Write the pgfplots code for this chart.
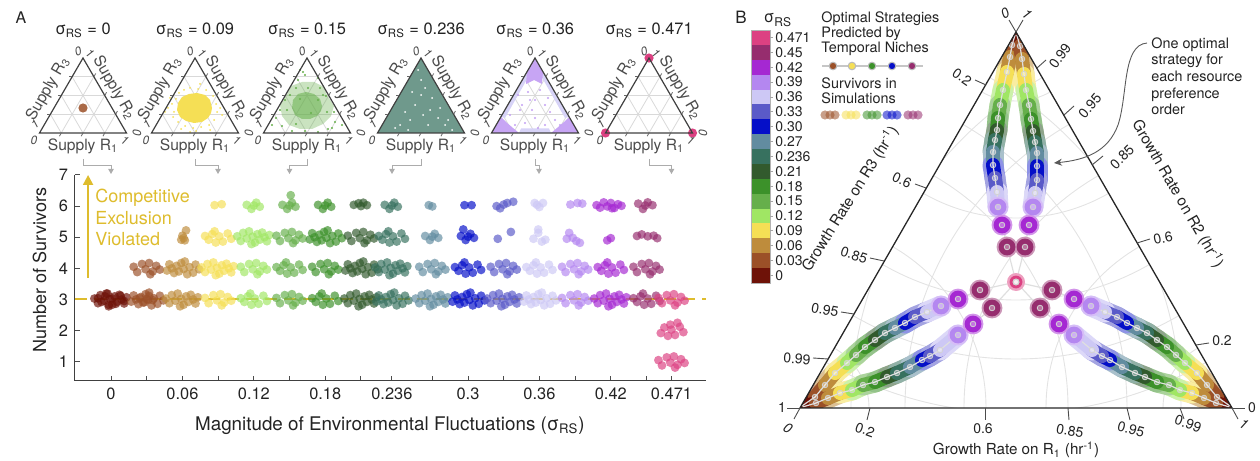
\documentclass[border=0pt]{standalone}
\usepackage{pgfplots}
\pgfplotsset{compat=1.18}
\usepackage{pgfplotstable}
\usetikzlibrary{arrows.meta}
\usepackage{fontspec}
\setmainfont{TeX Gyre Heros}

\newcommand\fs[2]{\fontsize{#1}{#2}\selectfont}

% one colour per fluctuation magnitude (0, 0.03, ..., 0.471)
\definecolor{c0}{RGB}{110,18,8}
\definecolor{c1}{RGB}{155,80,40}
\definecolor{c2}{RGB}{190,140,60}
\definecolor{c3}{RGB}{245,223,85}
\definecolor{c4}{RGB}{160,230,100}
\definecolor{c5}{RGB}{102,175,75}
\definecolor{c6}{RGB}{60,145,42}
\definecolor{c7}{RGB}{50,90,45}
\definecolor{c8}{RGB}{55,113,95}
\definecolor{c9}{RGB}{98,140,160}
\definecolor{c10}{RGB}{5,15,200}
\definecolor{c11}{RGB}{90,90,200}
\definecolor{c12}{RGB}{205,200,245}
\definecolor{c13}{RGB}{180,135,240}
\definecolor{c14}{RGB}{165,40,210}
\definecolor{c15}{RGB}{150,45,110}
\definecolor{c16}{RGB}{220,65,130}
\definecolor{gold}{RGB}{222,188,45}
\definecolor{txt}{RGB}{35,35,35}
\definecolor{tgray}{RGB}{75,75,75}

\tikzset{nostroke/.style={draw opacity=0, line width=0pt}}
\pgfplotsset{
  colormap={sig}{color=(c0) color=(c1) color=(c2) color=(c3) color=(c4) color=(c5)
    color=(c6) color=(c7) color=(c8) color=(c9) color=(c10) color=(c11) color=(c12)
    color=(c13) color=(c14) color=(c15) color=(c16) color=(c16)},
  colormap={siglight}{color=(c0!55!white) color=(c1!55!white) color=(c2!55!white)
    color=(c3!55!white) color=(c4!55!white) color=(c5!55!white) color=(c6!55!white)
    color=(c7!55!white) color=(c8!55!white) color=(c9!55!white) color=(c10!45!white)
    color=(c11!55!white) color=(c12!70!white) color=(c13!55!white) color=(c14!50!white)
    color=(c15!50!white) color=(c16!50!white) color=(c16!50!white)},
  canvas/.style={at={(0pt,0pt)}, anchor=south west, scale only axis,
    width=630pt, height=230.5pt, xmin=0, xmax=1260, ymin=0, ymax=461,
    y dir=reverse, hide axis, clip=false,
    colormap name=sig, point meta min=0, point meta max=17},
}

% ---------- survivors per run (x = sigma_RS with jitter, y = count with jitter, i = sigma index)
\pgfplotstableread{
x y i
-0.014 3.03 0
-0.011 2.88 0
-0.009 3.14 0
-0.006 2.96 0
-0.004 3.19 0
-0.001 3.02 0
0.001 2.83 0
0.003 3.10 0
0.005 2.92 0
0.007 3.15 0
0.009 3.00 0
0.011 2.87 0
0.013 3.07 0
-0.002 2.78 0
0.011 2.95 0
0.008 3.12 0
0.004 2.86 0
0.001 3.03 0
-0.002 2.83 0
-0.005 3.10 0
-0.008 2.92 0
-0.011 3.04 0
-0.003 3.19 0
0.044 2.97 1
0.041 3.12 1
0.039 2.86 1
0.036 3.04 1
0.034 2.81 1
0.031 2.98 1
0.029 3.17 1
0.027 2.90 1
0.025 3.08 1
0.023 2.85 1
0.021 3.00 1
0.019 3.13 1
0.017 2.93 1
0.032 3.22 1
0.024 3.04 1
0.028 2.91 1
0.032 3.11 1
0.035 2.98 1
0.030 3.02 1
0.019 4.05 1
0.022 3.88 1
0.026 4.14 1
0.029 3.97 1
0.032 4.17 1
0.035 3.90 1
0.038 4.08 1
0.041 3.96 1
0.033 3.81 1
0.046 3.03 2
0.049 2.88 2
0.051 3.14 2
0.054 2.96 2
0.056 3.19 2
0.059 3.02 2
0.061 2.83 2
0.063 3.10 2
0.065 2.92 2
0.067 3.15 2
0.069 3.00 2
0.071 2.87 2
0.073 3.07 2
0.058 2.78 2
0.074 3.97 2
0.071 4.12 2
0.069 3.86 2
0.066 4.04 2
0.064 3.81 2
0.061 3.98 2
0.059 4.17 2
0.057 3.90 2
0.055 4.08 2
0.053 3.85 2
0.051 4.00 2
0.049 4.13 2
0.047 3.93 2
0.062 4.22 2
0.059 4.92 2
0.061 4.97 2
0.063 5.22 2
0.060 5.05 2
0.062 4.90 2
0.079 3.05 3
0.082 2.88 3
0.086 3.14 3
0.089 2.97 3
0.092 3.17 3
0.095 2.90 3
0.098 3.08 3
0.101 2.96 3
0.093 2.81 3
0.076 4.03 3
0.079 3.88 3
0.081 4.14 3
0.084 3.96 3
0.086 4.19 3
0.089 4.02 3
0.091 3.83 3
0.093 4.10 3
0.095 3.92 3
0.097 4.15 3
0.099 4.00 3
0.101 3.87 3
0.103 4.07 3
0.088 3.78 3
0.101 4.95 3
0.098 5.12 3
0.094 4.86 3
0.091 5.03 3
0.088 4.83 3
0.085 5.10 3
0.082 4.92 3
0.079 5.04 3
0.087 5.19 3
0.087 6.03 3
0.093 6.06 3
0.131 2.95 4
0.128 3.12 4
0.124 2.86 4
0.121 3.03 4
0.118 2.83 4
0.115 3.10 4
0.112 2.92 4
0.109 3.04 4
0.117 3.19 4
0.109 4.05 4
0.112 3.88 4
0.116 4.14 4
0.119 3.97 4
0.122 4.17 4
0.125 3.90 4
0.128 4.08 4
0.131 3.96 4
0.123 3.81 4
0.106 5.03 4
0.109 4.88 4
0.111 5.14 4
0.114 4.96 4
0.116 5.19 4
0.119 5.02 4
0.121 4.83 4
0.123 5.10 4
0.125 4.92 4
0.127 5.15 4
0.129 5.00 4
0.131 4.87 4
0.133 5.07 4
0.118 4.78 4
0.114 6.04 4
0.118 5.91 4
0.122 6.11 4
0.125 5.98 4
0.120 6.02 4
0.139 3.05 5
0.142 2.88 5
0.146 3.14 5
0.149 2.97 5
0.152 3.17 5
0.155 2.90 5
0.158 3.08 5
0.161 2.96 5
0.153 2.81 5
0.161 3.95 5
0.158 4.12 5
0.154 3.86 5
0.151 4.03 5
0.148 3.83 5
0.145 4.10 5
0.142 3.92 5
0.139 4.04 5
0.147 4.19 5
0.139 5.05 5
0.142 4.88 5
0.146 5.14 5
0.149 4.97 5
0.152 5.17 5
0.155 4.90 5
0.158 5.08 5
0.161 4.96 5
0.153 4.81 5
0.144 6.04 5
0.148 5.91 5
0.152 6.11 5
0.155 5.98 5
0.150 6.02 5
0.151 6.35 5
0.191 2.95 6
0.188 3.12 6
0.184 2.86 6
0.181 3.03 6
0.178 2.83 6
0.175 3.10 6
0.172 2.92 6
0.169 3.04 6
0.177 3.19 6
0.169 4.05 6
0.172 3.88 6
0.176 4.14 6
0.179 3.97 6
0.182 4.17 6
0.185 3.90 6
0.188 4.08 6
0.191 3.96 6
0.183 3.81 6
0.194 4.97 6
0.191 5.12 6
0.189 4.86 6
0.186 5.04 6
0.184 4.81 6
0.181 4.98 6
0.179 5.17 6
0.177 4.90 6
0.175 5.08 6
0.173 4.85 6
0.171 5.00 6
0.169 5.13 6
0.167 4.93 6
0.182 5.22 6
0.174 6.04 6
0.178 5.91 6
0.182 6.11 6
0.185 5.98 6
0.180 6.02 6
0.196 3.03 7
0.199 2.88 7
0.201 3.14 7
0.204 2.96 7
0.206 3.19 7
0.209 3.02 7
0.211 2.83 7
0.213 3.10 7
0.215 2.92 7
0.217 3.15 7
0.219 3.00 7
0.221 2.87 7
0.223 3.07 7
0.208 2.78 7
0.224 3.97 7
0.221 4.12 7
0.219 3.86 7
0.216 4.04 7
0.214 3.81 7
0.211 3.98 7
0.209 4.17 7
0.207 3.90 7
0.205 4.08 7
0.203 3.85 7
0.201 4.00 7
0.199 4.13 7
0.197 3.93 7
0.212 4.22 7
0.199 5.05 7
0.202 4.88 7
0.206 5.14 7
0.209 4.97 7
0.212 5.17 7
0.215 4.90 7
0.218 5.08 7
0.221 4.96 7
0.213 4.81 7
0.204 6.04 7
0.208 6.09 7
0.212 6.11 7
0.215 6.03 7
0.210 6.00 7
0.250 2.97 8
0.247 3.12 8
0.245 2.86 8
0.242 3.04 8
0.240 2.81 8
0.237 2.98 8
0.235 3.17 8
0.233 2.90 8
0.231 3.08 8
0.229 2.85 8
0.227 3.00 8
0.225 3.13 8
0.223 2.93 8
0.238 3.22 8
0.222 4.03 8
0.225 3.88 8
0.227 4.14 8
0.230 3.96 8
0.232 4.19 8
0.235 4.02 8
0.237 3.83 8
0.239 4.10 8
0.241 3.92 8
0.243 4.15 8
0.245 4.00 8
0.247 3.87 8
0.249 4.07 8
0.234 3.78 8
0.247 4.95 8
0.244 5.12 8
0.240 4.86 8
0.237 5.03 8
0.234 4.83 8
0.231 5.10 8
0.228 4.92 8
0.225 5.04 8
0.233 5.19 8
0.230 6.04 8
0.234 5.91 8
0.238 6.11 8
0.241 5.98 8
0.236 6.02 8
0.256 3.03 9
0.259 2.88 9
0.261 3.14 9
0.264 2.96 9
0.266 3.19 9
0.269 3.02 9
0.271 2.83 9
0.273 3.10 9
0.275 2.92 9
0.277 3.15 9
0.279 3.00 9
0.281 2.87 9
0.283 3.07 9
0.268 2.78 9
0.259 4.05 9
0.262 3.88 9
0.266 4.14 9
0.269 3.97 9
0.272 4.17 9
0.275 3.90 9
0.278 4.08 9
0.281 3.96 9
0.273 3.81 9
0.264 5.04 9
0.268 4.91 9
0.272 5.11 9
0.275 4.98 9
0.270 5.02 9
0.267 6.03 9
0.270 5.99 9
0.314 2.97 10
0.311 3.12 10
0.309 2.86 10
0.306 3.04 10
0.304 2.81 10
0.301 2.98 10
0.299 3.17 10
0.297 2.90 10
0.295 3.08 10
0.293 2.85 10
0.291 3.00 10
0.289 3.13 10
0.287 2.93 10
0.302 3.22 10
0.311 3.95 10
0.308 4.12 10
0.304 3.86 10
0.301 4.03 10
0.298 3.83 10
0.295 4.10 10
0.292 3.92 10
0.289 4.04 10
0.297 4.19 10
0.294 5.04 10
0.298 4.91 10
0.302 5.11 10
0.305 4.98 10
0.300 5.02 10
0.296 5.25 10
0.297 6.03 10
0.303 6.03 10
0.316 3.03 11
0.319 2.88 11
0.321 3.14 11
0.324 2.96 11
0.326 3.19 11
0.329 3.02 11
0.331 2.83 11
0.333 3.10 11
0.335 2.92 11
0.337 3.15 11
0.339 3.00 11
0.341 2.87 11
0.343 3.07 11
0.328 2.78 11
0.319 4.05 11
0.322 3.88 11
0.326 4.14 11
0.329 3.97 11
0.332 4.17 11
0.335 3.90 11
0.338 4.08 11
0.341 3.96 11
0.333 3.81 11
0.325 4.95 11
0.336 5.17 11
0.324 6.00 11
0.327 5.93 11
0.333 6.10 11
0.338 6.14 11
0.330 6.05 11
0.374 2.97 12
0.371 3.12 12
0.369 2.86 12
0.366 3.04 12
0.364 2.81 12
0.361 2.98 12
0.359 3.17 12
0.357 2.90 12
0.355 3.08 12
0.353 2.85 12
0.351 3.00 12
0.349 3.13 12
0.347 2.93 12
0.362 3.22 12
0.371 3.95 12
0.368 4.12 12
0.364 3.86 12
0.361 4.03 12
0.358 3.83 12
0.355 4.10 12
0.352 3.92 12
0.349 4.04 12
0.357 4.19 12
0.355 4.95 12
0.359 5.14 12
0.362 4.86 12
0.365 4.92 12
0.359 5.25 12
0.356 6.10 12
0.360 5.97 12
0.363 6.10 12
0.358 6.04 12
0.379 3.05 13
0.382 2.88 13
0.386 3.14 13
0.389 2.97 13
0.392 3.17 13
0.395 2.90 13
0.398 3.08 13
0.401 2.96 13
0.393 2.81 13
0.379 4.05 13
0.382 3.88 13
0.386 4.14 13
0.389 3.97 13
0.392 4.17 13
0.395 3.90 13
0.398 4.08 13
0.401 3.96 13
0.393 3.81 13
0.385 5.14 13
0.388 4.98 13
0.391 4.88 13
0.394 4.82 13
0.383 4.95 13
0.386 6.05 13
0.392 6.10 13
0.396 6.08 13
0.406 3.03 14
0.409 2.88 14
0.411 3.14 14
0.414 2.96 14
0.416 3.19 14
0.419 3.02 14
0.421 2.83 14
0.423 3.10 14
0.425 2.92 14
0.427 3.15 14
0.429 3.00 14
0.431 2.87 14
0.433 3.07 14
0.418 2.78 14
0.431 3.95 14
0.428 4.12 14
0.424 3.86 14
0.421 4.03 14
0.418 3.83 14
0.415 4.10 14
0.412 3.92 14
0.409 4.04 14
0.417 4.19 14
0.417 4.90 14
0.420 4.97 14
0.408 6.03 14
0.411 5.95 14
0.414 6.12 14
0.417 5.99 14
0.420 6.10 14
0.423 5.94 14
0.426 6.06 14
0.429 6.01 14
0.421 5.93 14
0.461 2.95 15
0.458 3.12 15
0.454 2.86 15
0.451 3.03 15
0.448 2.83 15
0.445 3.10 15
0.442 2.92 15
0.439 3.04 15
0.447 3.19 15
0.439 4.05 15
0.442 3.88 15
0.446 4.14 15
0.449 3.97 15
0.452 4.17 15
0.455 3.90 15
0.458 4.08 15
0.461 3.96 15
0.453 3.81 15
0.442 5.04 15
0.446 5.09 15
0.451 5.03 15
0.456 5.05 15
0.459 4.97 15
0.443 6.08 15
0.447 5.91 15
0.451 6.12 15
0.455 6.03 15
0.449 6.02 15
0.460 3.05 16
0.463 2.88 16
0.467 3.14 16
0.470 2.97 16
0.473 3.17 16
0.476 2.90 16
0.479 3.08 16
0.482 2.96 16
0.474 2.81 16
0.481 1.95 16
0.478 2.12 16
0.474 1.86 16
0.471 2.03 16
0.468 1.83 16
0.465 2.10 16
0.462 1.92 16
0.470 2.19 16
0.476 2.25 16
0.460 1.05 16
0.463 0.88 16
0.467 1.14 16
0.470 0.97 16
0.473 1.17 16
0.476 0.90 16
0.479 1.08 16
0.482 0.96 16
0.474 0.81 16
}\survivors

% ---------- optimal strategy paths in the growth-rate triangle (drawing units, i = sigma index)
\pgfplotstableread{
x y i
1016 32 0
1012 45 1
1010 57 2
1007 72 3
1003 90 4
1000 105 5
998 118 6
997 130 7
995 140 8
993 152 9
993 165 10
995 178 11
997 192 12
998 207 13
1002 225 14
1007 247 15
1016 282 16
}\stTL
\pgfplotstableread{
x y i
1016 32 0
1020 46 1
1022 59 2
1024 74 3
1026 90 4
1029 105 5
1031 119 6
1033 131 7
1035 142 8
1037 153 9
1037 166 10
1037 180 11
1035 193 12
1033 207 13
1029 225 14
1025 247 15
1016 282 16
}\stTR
\pgfplotstableread{
x y i
799 408 0
815 397 1
825 385 2
835 373 3
847 363 4
856 355 5
865 347 6
875 340 7
885 333 8
895 328 9
905 323 10
915 317 11
927 312 12
941 306 13
958 299 14
980 290 15
1016 282 16
}\stBLu
\pgfplotstableread{
x y i
799 408 0
816 403 1
828 398 2
840 393 3
852 390 4
863 385 5
875 382 6
887 377 7
897 373 8
910 367 9
922 360 10
930 356 11
940 350 12
958 335 13
973 324 14
992 308 15
1016 282 16
}\stBLl
\pgfplotstableread{
x y i
1233 408 0
1217 397 1
1207 385 2
1197 373 3
1185 363 4
1176 355 5
1167 347 6
1157 340 7
1147 333 8
1137 328 9
1127 323 10
1117 317 11
1105 312 12
1091 306 13
1074 299 14
1052 290 15
1016 282 16
}\stBRu
\pgfplotstableread{
x y i
1233 408 0
1216 403 1
1204 398 2
1192 393 3
1180 390 4
1169 385 5
1157 382 6
1145 377 7
1135 373 8
1122 367 9
1110 360 10
1102 356 11
1092 350 12
1074 335 13
1059 324 14
1040 308 15
1016 282 16
}\stBRl

% layers of one strategy path (argument: path table)
\newcommand\pathhalo[1]{%
  \addplot[mesh, point meta=explicit, shader=flat corner, colormap name=siglight, line width=10.5pt, line cap=round,
    skip coords between index={14}{17}] table[x=x, y=y, meta=i] {#1};
  \addplot[scatter, only marks, mark=*, mark size=5.2pt, point meta=explicit, colormap name=siglight,
    scatter/use mapped color={nostroke, fill=mapped color},
    skip coords between index={0}{13}, skip coords between index={16}{17}] table[x=x, y=y, meta=i] {#1};
}
\newcommand\pathcore[1]{%
  \addplot[mesh, point meta=explicit, shader=flat corner, line width=7pt, line cap=round,
    skip coords between index={14}{17}] table[x=x, y=y, meta=i] {#1};
  \addplot[scatter, only marks, mark=*, mark size=4.2pt, point meta=explicit,
    scatter/use mapped color={nostroke, fill=mapped color},
    skip coords between index={0}{13}, skip coords between index={16}{17}] table[x=x, y=y, meta=i] {#1};
}
\newcommand\pathline[1]{%
  \addplot[white!75!gray, line width=0.6pt] table[x=x, y=y] {#1};
  \addplot[only marks, mark=*, mark size=1.4pt,
    mark options={fill=white, fill opacity=0.35, draw=white!65!gray, line width=0.4pt},
    skip coords between index={0}{1}] table[x=x, y=y] {#1};
}

% small supply triangle grid, centre x = #1
\newcommand\smallgrid[1]{%
  \foreach \k in {1,2,3}{%
    \pgfmathsetmacro\yy{58+18.75*\k}%
    \pgfmathsetmacro\xa{#1-10.875*\k}%
    \pgfmathsetmacro\xb{#1+10.875*\k}%
    \pgfmathsetmacro\px{#1-43.5+21.75*\k}%
    \pgfmathsetmacro\rx{#1-43.5+10.875*\k}%
    \pgfmathsetmacro\ry{133-18.75*\k}%
    \draw[gray!30, line width=0.4pt] (\xa,\yy)--(\xb,\yy);
    \draw[gray!30, line width=0.4pt] (\px,133)--(\xb,\yy);
    \draw[gray!30, line width=0.4pt] (\px,133)--(\rx,\ry);
  }%
}
\newcommand\smallframe[2]{% #1 centre x, #2 title value
  \draw[black!75, line width=0.6pt] (#1,58)--(#1-43.5,133)--(#1+43.5,133)--cycle;
  \foreach \k in {1,2,3}{%
    \pgfmathsetmacro\px{#1-43.5+21.75*\k}%
    \pgfmathsetmacro\ly{58+18.75*\k}%
    \pgfmathsetmacro\lx{#1-10.875*\k}%
    \pgfmathsetmacro\rxx{#1+10.875*\k}%
    \draw[black!60, line width=0.4pt] (\px,133)--++(-1.8,3.2);
    \draw[black!60, line width=0.4pt] (\lx,\ly)--++(-3.6,0);
    \draw[black!60, line width=0.4pt] (\rxx,\ly)--++(1.8,-3.2);
  }
  \node[font=\fs{8.2}{9}, text=txt] at (#1,30) {σ\textsubscript{RS} = #2};
  \node[font=\fs{7.8}{9}, text=tgray, inner sep=1pt] at (#1,146) {Supply R\textsubscript{1}};
  \node[font=\fs{7.8}{9}, text=tgray, inner sep=1pt, rotate=60] at (#1-35,89) {Supply R\textsubscript{3}};
  \node[font=\fs{7.8}{9}, text=tgray, inner sep=1pt, rotate=-60] at (#1+31,88) {Supply R\textsubscript{2}};
  \node[font=\fs{6}{7}\itshape, text=tgray, inner sep=0.5pt, rotate=20] at (#1-5,51) {0};
  \node[font=\fs{6}{7}\itshape, text=tgray, inner sep=0.5pt, rotate=-40] at (#1+7,53) {1};
  \node[font=\fs{6}{7}\itshape, text=tgray, inner sep=0.5pt, rotate=40] at (#1-48,124) {1};
  \node[font=\fs{6}{7}\itshape, text=tgray, inner sep=0.5pt] at (#1-49,140) {0};
  \node[font=\fs{6}{7}\itshape, text=tgray, inner sep=0.5pt, rotate=-30] at (#1+42,140) {1};
  \node[font=\fs{6}{7}\itshape, text=tgray, inner sep=0.5pt, rotate=90] at (#1+54,133) {0};
}

\begin{document}
\begin{tikzpicture}
\path[use as bounding box] (0,0) rectangle (630pt,230.5pt);

% ---------------- background layer: grids and colour bar
\begin{scope}[shift={(0pt,230.5pt)}, x=0.5pt, y=-0.5pt]
  \smallgrid{83}\smallgrid{195}\smallgrid{307}\smallgrid{421}\smallgrid{535}\smallgrid{649}
  \begin{scope}
    \clip (1016,32)--(800,408)--(1232,408)--cycle;
    \foreach \r in {69,186,268,327,381}{
      \draw[gray!22, line width=0.45pt] (800,408) circle[radius=\r];
      \draw[gray!22, line width=0.45pt] (1232,408) circle[radius=\r];
      \draw[gray!22, line width=0.45pt] (1016,32) circle[radius=\r];
    }
  \end{scope}
  \foreach \i in {0,...,16}{
    \fill[c\i] (751,{30+(16-\i)*14.88}) rectangle (770,{30+(17-\i)*14.88});
  }
  \draw[gray!60, line width=0.4pt] (751,30) rectangle (770,283);
  \foreach \i/\lab in {0/0,1/0.03,2/0.06,3/0.09,4/0.12,5/0.15,6/0.18,7/0.21,8/0.236,
                       9/0.27,10/0.30,11/0.33,12/0.36,13/0.39,14/0.42,15/0.45,16/0.471}{
    \draw[gray!70, line width=0.4pt] (770,{30+(16.5-\i)*14.88})--++(3,0);
    \node[anchor=west, inner sep=0, font=\fs{7}{7}, text=txt] at (775,{30+(16.5-\i)*14.88}) {\lab};
  }
\end{scope}

% ---------------- supply distributions and legend glyphs (drawing units)
\begin{axis}[canvas]
  \addplot[only marks, mark=*, mark size=2.3pt, color=c1!85!white, mark options={nostroke}] coordinates {(83,108)};
  \addplot[fill=c3, draw=none] coordinates {(212,108)(210,100)(205,95)(197,93)(189,94)(182,97)(178,103)(177,110)(180,117)(186,121)(194,123)(202,122)(208,118)(211,113)} -- cycle;
  \addplot[only marks, mark=*, mark size=0.5pt, color=c3, mark options={nostroke}] coordinates {
    (172,104)(174,112)(176,99)(179,93)(184,90)(190,88)(198,89)(206,90)(213,96)(216,104)(217,112)(214,120)
    (209,125)(201,127)(193,128)(185,126)(178,122)(173,117)(168,108)(220,108)(190,132)(200,84)(165,112)
    (222,115)(181,129)(210,130)(170,98)(196,131)};
  \addplot[fill=c5, fill opacity=0.35, draw=none] coordinates {(334,106)(327,95)(324,87)(314,82)(302,82)(291,86)(287,94)(280,105)(282,116)(289,125)(300,129)(312,129)(323,124)(331,116)} -- cycle;
  \addplot[fill=c5, fill opacity=0.55, draw=none] coordinates {(322,106)(320,99)(314,94)(306,92)(298,94)(293,100)(292,108)(295,115)(302,119)(310,119)(317,116)(321,111)} -- cycle;
  \addplot[only marks, mark=*, mark size=0.55pt, color=c5, mark options={nostroke}] coordinates {
    (280,110)(285,100)(298,80)(303,72)(305,75)(318,78)(320,88)(326,96)(334,112)(335,122)(328,129)(318,132)
    (305,131)(292,131)(282,126)(276,118)(287,110)(296,124)(318,100)(327,112)(300,99)(311,113)(290,95)
    (323,95)(296,88)(332,128)(308,88)(272,125)(342,125)(300,70)};
  \addplot[fill=c8!72!white, draw=none] coordinates {(421,58)(377.5,133)(464.5,133)} -- cycle;
  \addplot[only marks, mark=*, mark size=0.5pt, color=white, mark options={nostroke}] coordinates {
    (410,120)(430,110)(421,95)(400,125)(445,125)(415,105)(428,125)(438,118)(405,112)(421,80)(418,70)
    (425,88)(395,128)(452,130)(412,92)(432,98)(440,108)(408,130)(423,115)(448,120)};
  \addplot[fill=c12!80!white, draw=none] coordinates {(519,133)(551,133)(549,128.5)(521,128.5)} -- cycle;
  \addplot[fill=c12!80!white, draw=none] coordinates {(501,117)(527,72)(530,74)(505,118)} -- cycle;
  \addplot[fill=c12!80!white, draw=none] coordinates {(569,117)(543,72)(540,74)(565,118)} -- cycle;
  \addplot[fill=c13!75!white, draw=none] coordinates {(491.5,133)(519,133)(513,128)(506,122)(501,117)} -- cycle;
  \addplot[fill=c13!75!white, draw=none] coordinates {(578.5,133)(551,133)(557,128)(564,122)(569,117)} -- cycle;
  \addplot[fill=c13!75!white, draw=none] coordinates {(535,58)(527,72)(526,84)(534,80)(542,84)(543,72)} -- cycle;
  \addplot[only marks, mark=*, mark size=0.55pt, color=c13!80!white, mark options={nostroke}] coordinates {
    (520,110)(530,100)(545,105)(535,118)(515,125)(555,120)(540,90)(528,92)(550,112)(510,115)(560,125)
    (525,123)(545,125)(535,100)(532,110)(548,98)(522,105)(538,128)(518,95)};
  \addplot[only marks, mark=*, mark size=2.3pt, color=c16, mark options={nostroke}] coordinates {(649,58)(605.5,133)(692.5,133)};

  \addplot[gray!45, line width=0.8pt] coordinates {(822,66)(923,66)};
  \addplot[scatter, only marks, mark=*, mark size=1.9pt, point meta=explicit,
    scatter/use mapped color={draw=gray!55, fill=mapped color}, mark options={line width=0.5pt}]
    coordinates {(833,66) [1] (852,66) [3] (872,66) [6] (892,66) [10] (912,66) [15]};
  \addplot[scatter, only marks, mark=*, mark size=2.3pt, point meta=explicit,
    scatter/use mapped color={nostroke, fill=mapped color, fill opacity=0.55}]
    coordinates {(825,115) [1] (830,115) [1] (835,115) [1]
                 (846,115) [3] (851,115) [3] (856,115) [3]
                 (867,115) [6] (872,115) [6] (877,115) [6]
                 (887,115) [10] (892,115) [10] (897,115) [10]
                 (908,115) [15] (913,115) [15] (918,115) [15]};
\end{axis}

% ---------------- strategy paths, kept inside the growth-rate triangle
\begin{scope}
  \clip (508pt,214.5pt)--(400pt,26.5pt)--(616pt,26.5pt)--cycle;
  \begin{axis}[canvas]
    \pathhalo{\stTL}\pathhalo{\stTR}\pathhalo{\stBLu}\pathhalo{\stBLl}\pathhalo{\stBRu}\pathhalo{\stBRl}
    \pathcore{\stTL}\pathcore{\stTR}\pathcore{\stBLu}\pathcore{\stBLl}\pathcore{\stBRu}\pathcore{\stBRl}
    \addplot[scatter, only marks, mark=*, mark size=4.5pt, point meta=explicit, colormap name=siglight,
      scatter/use mapped color={nostroke, fill=mapped color}] coordinates {(1016,282) [16]};
    \addplot[scatter, only marks, mark=*, mark size=3.2pt, point meta=explicit,
      scatter/use mapped color={nostroke, fill=mapped color}] coordinates {(1016,282) [16]};
    \pathline{\stTL}\pathline{\stTR}\pathline{\stBLu}\pathline{\stBLl}\pathline{\stBRu}\pathline{\stBRl}
    \addplot[only marks, mark=*, mark size=1.5pt, color=c0, mark options={nostroke}] coordinates {(1016,32)(800,408)(1232,408)};
  \end{axis}
\end{scope}

% ---------------- survivors against fluctuation magnitude
\begin{axis}[at={(37.5pt,40pt)}, anchor=south west, scale only axis,
  width=315.5pt, height=103pt,
  xmin=-0.0303, xmax=0.5, ymin=0.38, ymax=7, clip=false,
  axis x line=bottom, axis y line=left,
  axis line style={-, line width=0.5pt, black!75},
  tick align=inside, major tick length=2.6pt,
  tick style={black!70, line width=0.5pt},
  xtick={0,0.03,0.06,0.09,0.12,0.15,0.18,0.21,0.236,0.27,0.3,0.33,0.36,0.39,0.42,0.45,0.471},
  xticklabels={0,,0.06,,0.12,,0.18,,0.236,,0.3,,0.36,,0.42,,0.471},
  ytick={1,2,3,4,5,6,7}, yticklabels={1,2,3,4,5,6,7},
  tick label style={font=\fs{8.2}{9}, text=txt},
  xlabel={Magnitude of Environmental Fluctuations (σ\textsubscript{RS})},
  ylabel={Number of Survivors},
  xlabel style={at={(axis description cs:0.499,-0.215)}, anchor=center, font=\fs{9.4}{10}, text=txt},
  ylabel style={at={(axis description cs:-0.056,0.539)}, anchor=center, font=\fs{9}{10}, text=txt},
  colormap name=sig, point meta min=0, point meta max=17]
  \addplot[gold, line width=1pt, dash pattern=on 6pt off 3.5pt] coordinates {(-0.0303,3) (0.5,3)};
  \addplot[scatter, only marks, mark=*, mark size=2.2pt, point meta=explicit,
    scatter/use mapped color={nostroke, fill=mapped color, fill opacity=0.68}]
    table[x=x, y=y, meta=i] {\survivors};
  \draw[-{Triangle[length=5pt, width=5pt]}, gold, line width=1pt] (axis cs:-0.0193,3.69) -- (axis cs:-0.0193,7);
  \node[anchor=north west, align=left, inner sep=0, text=gold, font=\fs{9}{10.75}] at (axis cs:-0.0136,6.55)
    {Competitive\\Exclusion\\Violated};
\end{axis}

% ---------------- foreground layer: frames, ticks, text
\begin{scope}[shift={(0pt,230.5pt)}, x=0.5pt, y=-0.5pt]
  \smallframe{83}{0}\smallframe{195}{0.09}\smallframe{307}{0.15}
  \smallframe{421}{0.236}\smallframe{535}{0.36}\smallframe{649}{0.471}
  \foreach \c/\t in {83/111, 195/218, 307/289.5, 421/392, 535/539, 649/671.5}{
    \draw[gray!65, line width=0.5pt, -{Triangle[length=2.6pt, width=2.8pt]}] (\c,159)--(\c,166)--(\t,166)--(\t,174);
  }
  \node[font=\fs{8}{9}, text=txt] at (21,18) {A};
  \node[font=\fs{8.5}{9}, text=txt] at (741,17) {B};

  % growth-rate triangle
  \draw[black!85, line width=0.65pt] (1016,32)--(800,408)--(1232,408)--cycle;
  \begin{scope}[black!70, line width=0.45pt]
    \draw (1016,32)--(1009,20); \draw (986,85)--(975,80); \draw (926,188)--(915,184);
    \draw (884,261)--(870,258); \draw (854,314)--(841,312); \draw (828,359)--(813,358);
    \draw (800,408)--(787,408);
    \draw (1016,32)--(1023,20); \draw (1037,68)--(1046,60); \draw (1064,115)--(1074,106);
    \draw (1092,165)--(1103,156); \draw (1137,243)--(1150,239); \draw (1196,345)--(1209,343);
    \draw (1232,408)--(1245,408);
    \draw (800,408)--(794,419); \draw (870,408)--(867,420); \draw (985,408)--(985,420);
    \draw (1068,408)--(1069,420); \draw (1127,408)--(1130,420); \draw (1180,408)--(1184,419);
    \draw (1232,408)--(1238,419);
  \end{scope}
  \begin{scope}[every node/.style={font=\fs{7}{8}, text=txt, inner sep=0}]
    \node[rotate=30, font=\fs{7}{8}\itshape] at (1005,13) {0};
    \node[rotate=-35] at (962,77) {0.2};
    \node[rotate=-25] at (902,180) {0.6};
    \node[rotate=-18] at (854,255) {0.85};
    \node[rotate=-10] at (825,310) {0.95};
    \node[rotate=-4] at (797,359) {0.99};
    \node at (782,408) {1};
    \node[rotate=-40, font=\fs{7}{8}\itshape] at (1027,14) {1};
    \node[rotate=55] at (1060,56) {0.99};
    \node[rotate=50] at (1090,106) {0.95};
    \node[rotate=45] at (1122,157) {0.85};
    \node[rotate=12] at (1163,238) {0.6};
    \node at (1222,341) {0.2};
    \node at (1252,408) {0};
    \node[rotate=-30, font=\fs{7}{8}\itshape] at (788,428) {0};
    \node[rotate=-20] at (865,430) {0.2};
    \node at (983,429) {0.6};
    \node[rotate=-10] at (1070,431) {0.85};
    \node[rotate=-15] at (1131,429) {0.95};
    \node[rotate=-20] at (1188,424) {0.99};
    \node[rotate=-30, font=\fs{7}{8}\itshape] at (1244,424) {1};
  \end{scope}
  \node[font=\fs{7.6}{9}, text=txt, inner sep=0] at (1016,450) {Growth Rate on R\textsubscript{1} (hr\textsuperscript{-1})};
  \node[font=\fs{7.6}{9}, text=txt, inner sep=0, rotate=58] at (850,199) {Growth Rate on R3 (hr\textsuperscript{-1})};
  \node[font=\fs{7.6}{9}, text=txt, inner sep=0, rotate=-60] at (1178,194) {Growth Rate on R2 (hr\textsuperscript{-1})};

  % colour-bar title and legend text
  \node[font=\fs{8}{9}, text=txt] at (778,20) {σ\textsubscript{RS}};
  \node[anchor=north west, align=left, inner sep=0, font=\fs{7.2}{7.5}, text=txt] at (821,11)
    {Optimal Strategies\\Predicted by\\Temporal Niches};
  \node[anchor=north west, align=left, inner sep=0, font=\fs{7.2}{7.5}, text=txt] at (821,77)
    {Survivors in\\Simulations};
  \node[anchor=north west, align=left, inner sep=0, font=\fs{7.2}{8.35}, text=txt] at (1151,37)
    {One optimal\\strategy for\\each resource\\preference\\order};
  \draw[-{Stealth[length=4pt, width=3.5pt]}, gray!70!black, line width=0.45pt]
    (1147,43) .. controls (1122,45) and (1128,95) .. (1118,125) .. controls (1108,152) and (1085,160) .. (1054,163);
\end{scope}
\end{tikzpicture}
\end{document}
